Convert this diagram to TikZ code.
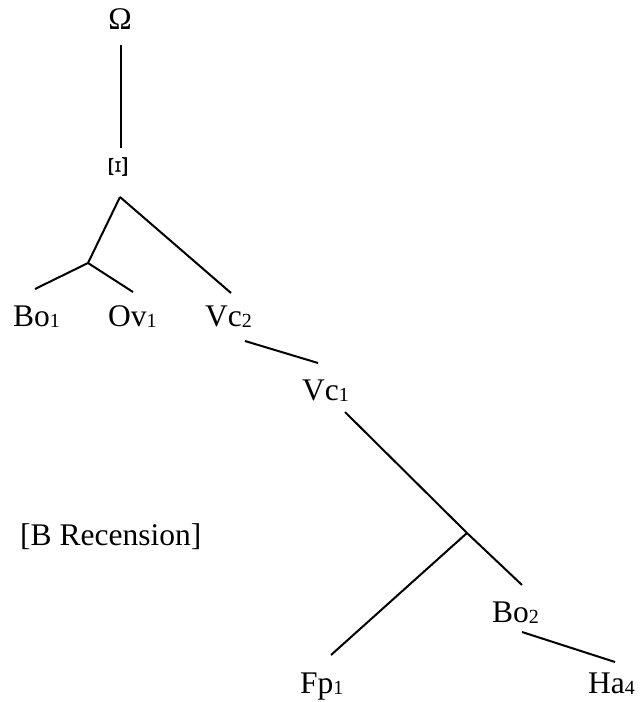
\documentclass[tikz,border=0pt]{standalone}
\usepackage{fontspec}
\setmainfont{Liberation Serif}
\newcommand\subnum[1]{\raisebox{-1pt}{\fontsize{20}{20}\selectfont #1}}
\begin{document}
\begin{tikzpicture}[x=1pt,y=-1pt,
  lbl/.style={inner sep=0pt, anchor=base west, font=\fontsize{31.5}{31.5}\selectfont},
  edge/.style={line width=2pt}]
\useasboundingbox (0,0) rectangle (640,702);
% labels
\node[lbl, anchor=base] (omega) at (120,29) {Ω};
\node[inner sep=0pt, rotate=90] (xi) at (118,166.5) {\resizebox{23pt}{18pt}{\fontsize{31}{31}\selectfont Ξ}};
\node[lbl] (bo1) at (13,326) {Bo\subnum{1}};
\node[lbl] (ov1) at (108,326) {Ov\subnum{1}};
\node[lbl] (vc2) at (205,326) {Vc\subnum{2}};
\node[lbl] (vc1) at (302,400) {Vc\subnum{1}};
\node[lbl] (brec) at (20,545) {[B Recension]};
\node[lbl] (bo2) at (492,622) {Bo\subnum{2}};
\node[lbl] (fp1) at (300,693) {Fp\subnum{1}};
\node[lbl] (ha4) at (588,693) {Ha\subnum{4}};
% connector points
\coordinate (omega-out) at (121,45);
\coordinate (xi-in) at (121,148);
\coordinate (apex) at (120,197);
\coordinate (j1) at (88,263);
\coordinate (bo1-in) at (35,289);
\coordinate (ov1-in) at (133,292);
\coordinate (vc2-in) at (231,293);
\coordinate (vc2-out) at (245,341);
\coordinate (vc1-in) at (318,363);
\coordinate (vc1-out) at (345,412);
\coordinate (j2) at (467,533);
\coordinate (bo2-in) at (522,585);
\coordinate (fp1-in) at (331,655);
\coordinate (bo2-out) at (522,632);
\coordinate (ha4-in) at (615,662);
% connectors
\draw[edge, line width=2.6pt] (omega-out) -- (xi-in);
\draw[edge] (apex) -- (j1);
\draw[edge] (apex) -- (vc2-in);
\draw[edge] (j1) -- (bo1-in);
\draw[edge] (j1) -- (ov1-in);
\draw[edge] (vc2-out) -- (vc1-in);
\draw[edge] (vc1-out) -- (j2) -- (bo2-in);
\draw[edge] (j2) -- (fp1-in);
\draw[edge] (bo2-out) -- (ha4-in);
\end{tikzpicture}
\end{document}
